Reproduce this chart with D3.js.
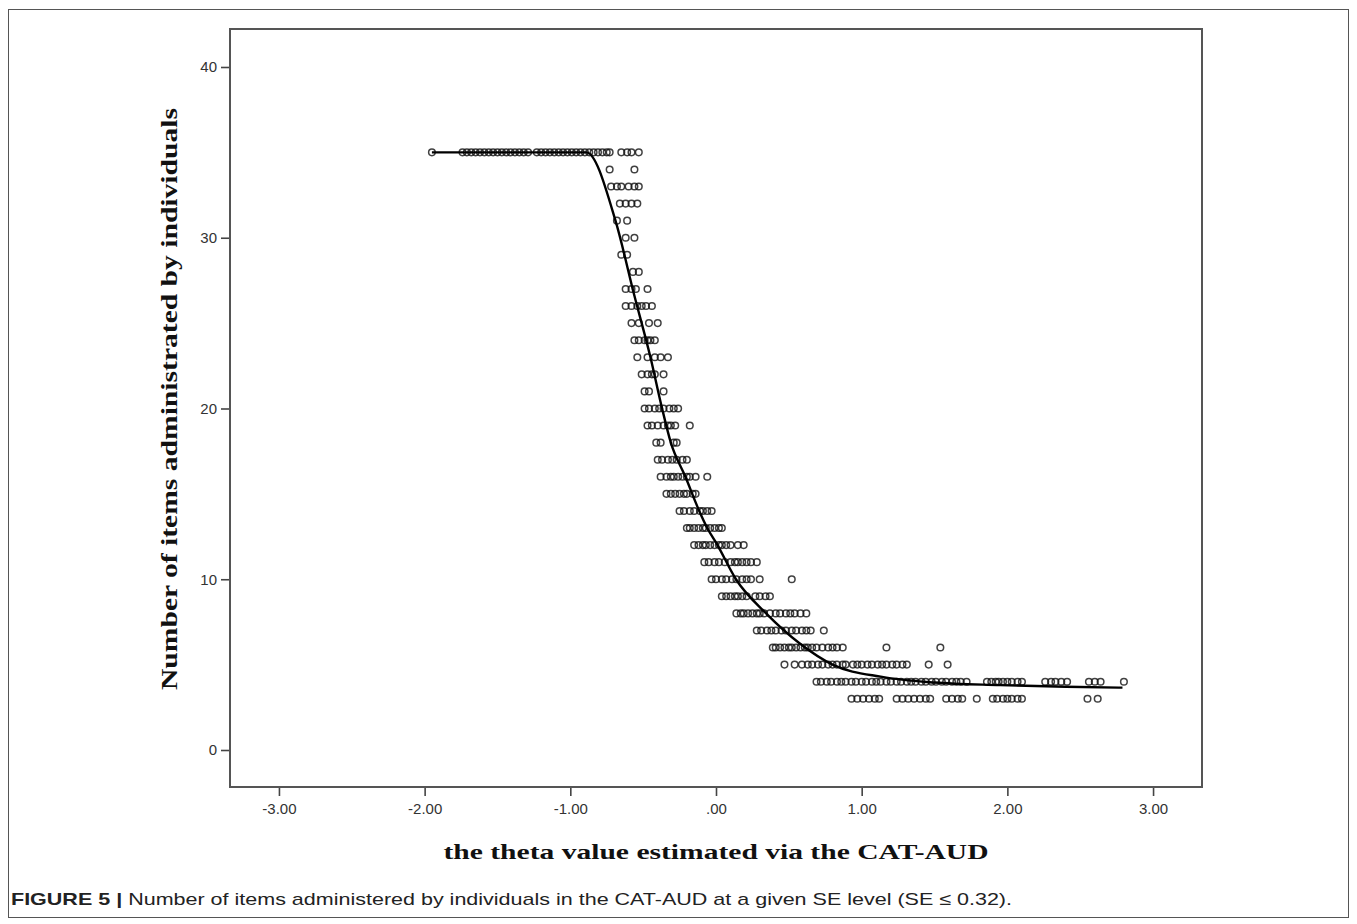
<!DOCTYPE html>
<html><head><meta charset="utf-8">
<script src="https://cdn.jsdelivr.net/npm/d3@7"></script>
<style>body{margin:0;background:#fff}</style>
</head><body><svg id="c" width="1357" height="924"></svg>
<script>
// ---------------- data ----------------
const itemLevels = [35,34,33,32,31,30,29,28,27,26,25,24,23,22,21,20,19,18,17,16,15,14,13,12,11,10,9,8,7,6,5,4,3];
const thetaByLevel = [
  [-1.95,-1.74,-1.71,-1.68,-1.65,-1.62,-1.59,-1.56,-1.53,-1.50,-1.47,-1.44,-1.41,-1.38,-1.35,-1.32,-1.29,-1.23,-1.20,-1.17,-1.14,-1.11,-1.08,-1.05,-1.02,-0.99,-0.96,-0.93,-0.90,-0.87,-0.84,-0.81,-0.78,-0.75,-0.73,-0.65,-0.61,-0.58,-0.53],
  [-0.73,-0.56],
  [-0.72,-0.68,-0.65,-0.60,-0.56,-0.53],
  [-0.66,-0.62,-0.58,-0.54],
  [-0.68,-0.61],
  [-0.62,-0.56],
  [-0.65,-0.61],
  [-0.57,-0.53],
  [-0.62,-0.58,-0.55,-0.47],
  [-0.62,-0.58,-0.54,-0.51,-0.48,-0.44],
  [-0.58,-0.53,-0.46,-0.40],
  [-0.56,-0.53,-0.49,-0.47,-0.45,-0.42],
  [-0.54,-0.47,-0.42,-0.38,-0.33],
  [-0.51,-0.47,-0.44,-0.42,-0.36],
  [-0.49,-0.46,-0.36],
  [-0.49,-0.46,-0.42,-0.39,-0.36,-0.32,-0.29,-0.26],
  [-0.47,-0.44,-0.40,-0.36,-0.33,-0.31,-0.28,-0.18],
  [-0.41,-0.38,-0.29,-0.27],
  [-0.40,-0.37,-0.33,-0.30,-0.27,-0.23,-0.20],
  [-0.38,-0.34,-0.31,-0.29,-0.26,-0.23,-0.20,-0.18,-0.14,-0.06],
  [-0.34,-0.31,-0.28,-0.25,-0.22,-0.20,-0.16,-0.14],
  [-0.25,-0.22,-0.18,-0.15,-0.11,-0.09,-0.06,-0.03],
  [-0.20,-0.18,-0.15,-0.12,-0.09,-0.07,-0.04,-0.01,0.02,0.04],
  [-0.15,-0.12,-0.09,-0.07,-0.04,-0.01,0.02,0.04,0.07,0.10,0.15,0.19],
  [-0.08,-0.05,-0.01,0.02,0.06,0.10,0.13,0.15,0.18,0.21,0.24,0.28],
  [-0.03,0.00,0.04,0.07,0.11,0.14,0.18,0.21,0.24,0.30,0.52],
  [0.04,0.07,0.10,0.13,0.15,0.18,0.21,0.27,0.30,0.34,0.37],
  [0.14,0.17,0.19,0.22,0.25,0.28,0.30,0.33,0.37,0.41,0.44,0.48,0.51,0.54,0.58,0.62],
  [0.28,0.31,0.35,0.38,0.41,0.45,0.48,0.52,0.55,0.59,0.62,0.65,0.74],
  [0.39,0.41,0.44,0.47,0.50,0.52,0.55,0.58,0.61,0.63,0.66,0.69,0.73,0.77,0.80,0.83,0.87,1.17,1.54],
  [0.47,0.54,0.59,0.63,0.66,0.70,0.73,0.77,0.80,0.83,0.87,0.89,0.94,0.97,1.00,1.04,1.07,1.11,1.14,1.17,1.21,1.24,1.28,1.31,1.46,1.59],
  [0.69,0.72,0.76,0.79,0.83,0.86,0.89,0.93,0.96,1.00,1.03,1.07,1.10,1.13,1.17,1.20,1.24,1.27,1.31,1.34,1.37,1.41,1.44,1.48,1.51,1.55,1.58,1.62,1.65,1.68,1.72,1.86,1.89,1.92,1.94,1.97,2.00,2.03,2.07,2.10,2.26,2.30,2.33,2.37,2.41,2.56,2.60,2.64,2.80],
  [0.93,0.97,1.01,1.05,1.09,1.12,1.24,1.28,1.32,1.36,1.40,1.44,1.47,1.58,1.62,1.66,1.69,1.79,1.90,1.93,1.97,2.00,2.03,2.07,2.10,2.55,2.62]
];
const fitTheta = [-1.95,-0.89,-0.69,-0.56,-0.45,-0.37,-0.31,-0.21,-0.115,-0.06,0.01,0.137,0.344,0.573,0.80,1.14,1.50,1.95,2.40,2.79];
const fitItems = [35,35,31,26.6,23,20,18,16,14,13,12,10,8,6.25,5.0,4.28,3.95,3.8,3.7,3.65];
const xTickValues = [-3,-2,-1,0,1,2,3];
const xTickLabels = ["-3.00","-2.00","-1.00",".00","1.00","2.00","3.00"];
const yTickValues = [0,10,20,30,40];
const yTickLabels = ["0","10","20","30","40"];
const xTitle = "the theta value estimated via the CAT-AUD";
const yTitle = "Number of items administrated by individuals";
const captionBold = "FIGURE 5 |";
const captionText = " Number of items administered by individuals in the CAT-AUD at a given SE level (SE \u2264 0.32).";

// ---------------- drawing ----------------
const svg = d3.select("#c");
const box = {l:230, t:29, r:1202, b:787};
const x = d3.scaleLinear().domain([-3.336, 3.336]).range([box.l, box.r]);
const y = d3.scaleLinear().domain([-2.167, 42.225]).range([box.b, box.t]);

// outer frame
svg.append("rect").attr("x",8.5).attr("y",9.5).attr("width",1340).attr("height",908)
  .attr("fill","none").attr("stroke","#555").attr("stroke-width",1);

// points
const pts = [];
itemLevels.forEach((lv,i)=>thetaByLevel[i].forEach(t=>pts.push([t,lv])));
svg.append("g").selectAll("circle").data(pts).join("circle")
  .attr("cx",d=>x(d[0])).attr("cy",d=>y(d[1])).attr("r",3.3)
  .attr("fill","none").attr("stroke","#111").attr("stroke-opacity",0.8).attr("stroke-width",1.5);

// fit line
const fit = fitTheta.map((t,i)=>[t,fitItems[i]]);
svg.append("path").datum(fit)
  .attr("d", d3.line().x(d=>x(d[0])).y(d=>y(d[1])).curve(d3.curveMonotoneX))
  .attr("fill","none").attr("stroke","#000").attr("stroke-width",2.4);

// plot box
svg.append("rect").attr("x",box.l).attr("y",box.t).attr("width",box.r-box.l).attr("height",box.b-box.t)
  .attr("fill","none").attr("stroke","#555").attr("stroke-width",2);

// axes
const xAxis = svg.append("g").attr("transform",`translate(0,${box.b+1})`)
  .call(d3.axisBottom(x).tickValues(xTickValues).tickSize(8).tickPadding(7)
    .tickFormat((d,i)=>xTickLabels[i]));
const yAxis = svg.append("g").attr("transform",`translate(${box.l-1},0)`)
  .call(d3.axisLeft(y).tickValues(yTickValues).tickSize(8).tickPadding(4)
    .tickFormat((d,i)=>yTickLabels[i]));
[xAxis,yAxis].forEach(g=>{
  g.select(".domain").remove();
  g.selectAll(".tick line").attr("stroke","#444").attr("stroke-width",1.6);
  g.selectAll(".tick text").attr("fill","#333").style("font-family","'Liberation Sans', Arial, sans-serif").style("font-size","15px");
});

// titles
const xt = svg.append("text").attr("x",(box.l+box.r)/2).attr("y",859).attr("text-anchor","middle")
  .style("font-family","'Liberation Serif','Times New Roman',serif").style("font-weight","bold").style("font-size","22px")
  .attr("fill","#111").text(xTitle);
xt.attr("textLength",545).attr("lengthAdjust","spacingAndGlyphs");
const yt = svg.append("text").attr("transform","translate(177,399) rotate(-90)").attr("text-anchor","middle")
  .style("font-family","'Liberation Serif','Times New Roman',serif").style("font-weight","bold").style("font-size","23px")
  .attr("fill","#111").text(yTitle);
yt.attr("textLength",582).attr("lengthAdjust","spacingAndGlyphs");

// caption
const cap = svg.append("text").attr("x",0).attr("y",0)
  .style("font-family","'Liberation Sans Narrow','Liberation Sans',Arial,sans-serif").style("font-size","17px").attr("fill","#222");
cap.append("tspan").style("font-weight","bold").text(captionBold);
cap.append("tspan").text(captionText);
const cw = cap.node().getComputedTextLength();
cap.attr("transform",`translate(11,905) scale(${1002/cw},1)`);
</script>
</body></html>
